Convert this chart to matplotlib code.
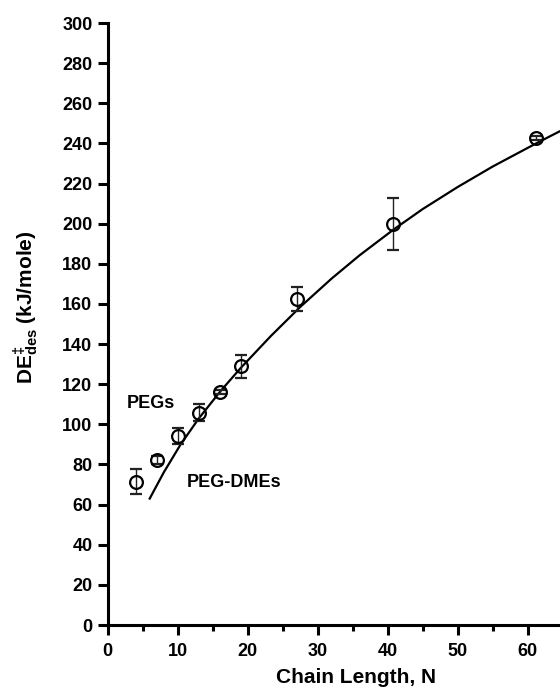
"""
Desorption energy vs chain length (PEGs / PEG-DMEs).
"""

import matplotlib
matplotlib.use('Agg')  # Non-interactive backend
import matplotlib.pyplot as plt
from matplotlib.ticker import MultipleLocator

plt.rcParams['font.family'] = 'Liberation Sans'
plt.rcParams['font.weight'] = 'bold'
plt.rcParams['mathtext.fontset'] = 'custom'
plt.rcParams['mathtext.rm'] = 'Liberation Sans:bold'
plt.rcParams['mathtext.bf'] = 'Liberation Sans:bold'
plt.rcParams['mathtext.it'] = 'Liberation Sans:bold'

# Measured points
chain_n = [4, 7, 10, 13, 16, 19, 27, 40.8, 61.2]
de_des = [71.5, 82, 94.2, 105.8, 116.3, 129, 162.4, 199.9, 242.6]
de_err = [6.2, 2.0, 4.2, 4.3, 1.0, 5.7, 6.0, 13.0, 1.0]

# Fitted curve
fit_n = [6.0, 8, 10.4, 13, 16.1, 19, 23.3, 27.5, 32, 36, 40.8, 45, 50, 55, 61.3, 64.6]
fit_de = [63, 76, 89.9, 102.9, 116.5, 128.1, 144.0, 158.5, 172.7, 184.3, 197.0,
          207.3, 218.3, 228.5, 240.2, 246.1]

x_ticks = [0, 10, 20, 30, 40, 50, 60]

fig = plt.figure(figsize=(5.6, 6.89), dpi=100)
ax = fig.add_axes([107.7 / 560, 64 / 689, (560 - 107.7) / 560, 602 / 689])

ax.plot(fit_n, fit_de, color='black', linewidth=1.6, zorder=2)
ax.errorbar(chain_n, de_des, yerr=de_err, fmt='o', markersize=9.2,
            markerfacecolor='none', markeredgecolor='black', markeredgewidth=1.6,
            ecolor='#222222', elinewidth=1.0, capsize=4, capthick=1.0, zorder=3,
            clip_on=False)

ax.text(2.7, 108, 'PEGs', fontsize=13, fontweight='bold')
ax.text(11.3, 69, 'PEG-DMEs', fontsize=13, fontweight='bold')

ax.set_xlim(0, 64.6)
ax.set_ylim(0, 300)
ax.set_xticks(x_ticks)
ax.xaxis.set_minor_locator(MultipleLocator(5))
ax.yaxis.set_major_locator(MultipleLocator(20))

for side in ['top', 'right']:
    ax.spines[side].set_visible(False)
for side in ['left', 'bottom']:
    ax.spines[side].set_linewidth(2.2)

ax.tick_params(axis='both', which='major', direction='out', length=7,
               width=2.2, labelsize=13)
ax.tick_params(axis='x', which='minor', direction='out', length=4, width=2.2)
ax.tick_params(axis='x', which='major', pad=6)
ax.tick_params(axis='y', which='major', pad=4)
for lab in ax.get_xticklabels() + ax.get_yticklabels():
    lab.set_fontweight('bold')

ax.set_xlabel('Chain Length, N', fontsize=15, fontweight='bold')
ax.xaxis.label.set_va('baseline')
ax.xaxis.set_label_coords(0.549, -0.097)

ax.set_ylabel(r'DE$^{\ddag}_{\rm des}$ (kJ/mole)', fontsize=15, fontweight='bold')
ax.yaxis.set_label_coords(-0.148, 0.527)

plt.savefig('out.png', dpi=100, facecolor='white')
plt.close()
print("  Saved: out.png")
